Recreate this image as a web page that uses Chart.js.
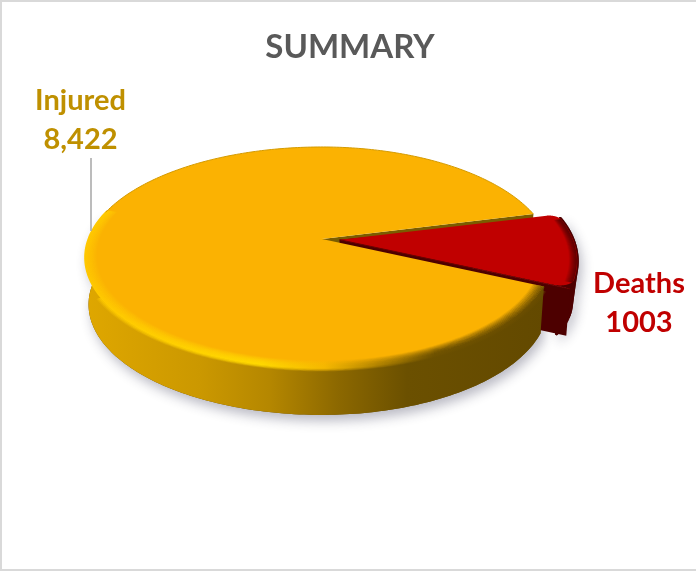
<!DOCTYPE html>
<html>
<head>
<meta charset="utf-8">
<script src="https://cdn.jsdelivr.net/npm/chart.js@4"></script>
<style>
  body { margin: 0; background: #fff; }
  #box { position: relative; width: 696px; height: 571px; overflow: hidden; }
  #frame { position: absolute; left: 0; top: 0; width: 696px; height: 571px; box-sizing: border-box;
           border: 2px solid #d9d9d9; border-right: none; }
  canvas { position: absolute; left: 0; top: 0; }
</style>
</head>
<body>
<div id="box">
  <div id="frame"></div>
  <canvas id="chart" width="696" height="571"></canvas>
</div>
<script>
const categories = ["Deaths", "Injured"];
const values = [1003, 8422];
const valueLabels = ["1003", "8,422"];
const sliceColors = ["#C00000", "#FBB202"];
const labelColors = ["#C00000", "#BF9000"];
const titleText = "SUMMARY";

// where the flat pie lands on the page (fake 3d, a perspective squash)
const view = { cx: 322, cy: 239, rx: 233.7, rightScale: 0.97, ry: 107.4, p: 0.167, depth: 47, shrink: 0.985 };
const rad = (d) => (d * Math.PI) / 180;

function project(x, y, c) {
  const u = (x - c.x) / c.r;
  const v = (y - c.y) / c.r;
  const w = 1 - view.p * v;
  const rx = u > 0 ? view.rx * view.rightScale : view.rx;
  return { x: view.cx + (rx * u) / w, y: view.cy + (view.ry * v) / w };
}

function lower(pt) {
  return { x: view.cx + (pt.x - view.cx) * view.shrink, y: pt.y + view.depth };
}

function pieCentre(chart) {
  const el = chart.getDatasetMeta(0).data[1];
  return { x: el.x, y: el.y, r: el.outerRadius };
}

// flat coordinates of a slice, same shift as ArcElement.draw uses
function slicePoint(el, theta, scale) {
  const off = (el.options.offset || 0) / 4;
  const half = (el.startAngle + el.endAngle) / 2;
  const fix = 1 - Math.sin(Math.min(Math.PI, el.endAngle - el.startAngle));
  const r = (el.outerRadius + off * fix) * scale;
  return {
    x: el.x + Math.cos(half) * off + Math.cos(theta) * r,
    y: el.y + Math.sin(half) * off + Math.sin(theta) * r,
  };
}

function apex(el) {
  const off = (el.options.offset || 0) / 4;
  const half = (el.startAngle + el.endAngle) / 2;
  return { x: el.x + Math.cos(half) * off, y: el.y + Math.sin(half) * off };
}

function rimPoints(el, a0, a1, c, scale) {
  const pts = [];
  const n = 160;
  for (let i = 0; i <= n; i++) {
    const t = a0 + ((a1 - a0) * i) / n;
    const p = slicePoint(el, t, scale === undefined ? 1 : scale);
    pts.push(project(p.x, p.y, c));
  }
  return pts;
}

// the red wall as one path of short drops from the rim to the bottom edge,
// the bottom pulled in toward the lower corner so it looks rounded
function traceRedWall(ctx, el, c) {
  const a0 = el.startAngle + rad(2.5);
  const a1 = el.endAngle;
  const n = 240;
  ctx.beginPath();
  for (let i = 0; i <= n; i++) {
    const f = i / n;
    const t = a0 + (a1 - a0) * f;
    const top = slicePoint(el, t, 1);
    const bottom = slicePoint(el, t, 1 - 0.04 * f * f * f);
    const p = project(top.x, top.y, c);
    const q = lower(project(bottom.x, bottom.y, c));
    ctx.moveTo(p.x, p.y);
    ctx.lineTo(q.x, q.y);
  }
}

function tracePoly(ctx, pts) {
  ctx.beginPath();
  pts.forEach((p, i) => (i ? ctx.lineTo(p.x, p.y) : ctx.moveTo(p.x, p.y)));
}

function xGradient(ctx, stops) {
  const g = ctx.createLinearGradient(85, 0, 545, 0);
  stops.forEach((s) => g.addColorStop(s[0], s[1]));
  return g;
}

const pie3d = {
  id: "pie3d",
  beforeDatasetsDraw(chart) {
    const ctx = chart.ctx;
    const c = pieCentre(chart);
    const [red, yellow] = chart.getDatasetMeta(0).data;

    const front = rimPoints(yellow, yellow.startAngle, rad(195), c);
    const band = front.concat(front.map(lower).reverse());

    // both walls with a soft shadow
    ctx.save();
    ctx.shadowColor = "rgba(40,40,70,0.32)";
    ctx.shadowBlur = 12;
    ctx.shadowOffsetX = 3;
    ctx.shadowOffsetY = 6;
    traceRedWall(ctx, red, c);
    ctx.strokeStyle = "#4d0000";
    ctx.lineWidth = 3;
    ctx.lineCap = "round";
    ctx.stroke();
    tracePoly(ctx, band);
    ctx.closePath();
    ctx.fillStyle = "#6a4d00";
    ctx.fill();
    ctx.restore();

    // cut face of the yellow slice, shows above the red one
    const yApex = project(yellow.x, yellow.y, c);
    const yEnd = rimPoints(yellow, yellow.endAngle, yellow.endAngle, c)[0];
    tracePoly(ctx, [yApex, yEnd, lower(yEnd), lower(yApex)]);
    ctx.closePath();
    ctx.fillStyle = "#7a5c00";
    ctx.fill();

    // red wall, outer and lower cut face, plus a dark backing under the red top
    const rApex0 = apex(red);
    const rApex = project(rApex0.x, rApex0.y, c);
    const rEnd = rimPoints(red, red.endAngle, red.endAngle, c)[0];
    ctx.save();
    traceRedWall(ctx, red, c);
    ctx.strokeStyle = "#4d0000";
    ctx.lineWidth = 3;
    ctx.lineCap = "round";
    ctx.stroke();
    ctx.restore();
    ctx.fillStyle = "#4d0000";
    tracePoly(ctx, [rApex].concat(rimPoints(red, red.startAngle + rad(2.5), red.endAngle, c)));
    ctx.closePath();
    ctx.fill();
    tracePoly(ctx, [rApex, rEnd, lower(rEnd), lower(rApex)]);
    ctx.closePath();
    ctx.fill();

    // yellow wall on top of the red one
    tracePoly(ctx, band);
    ctx.closePath();
    ctx.fillStyle = xGradient(ctx, [
      [0, "#dfa700"], [0.25, "#cb9800"], [0.4, "#b58700"], [0.55, "#8c6800"],
      [0.7, "#6b5000"], [1, "#634900"],
    ]);
    ctx.fill();

    // the arcs drawn by the library go through the same squash
    const orig = { arc: ctx.arc, lineTo: ctx.lineTo, moveTo: ctx.moveTo };
    const put = (fn, x, y) => {
      const m = ctx.getTransform();
      const p = project(x + m.e, y + m.f, c);
      fn.call(ctx, p.x - m.e, p.y - m.f);
    };
    ctx.moveTo = (x, y) => put(orig.moveTo, x, y);
    ctx.lineTo = (x, y) => put(orig.lineTo, x, y);
    ctx.arc = (x, y, r, a0, a1, ccw) => {
      if (r <= 0) return put(orig.lineTo, x, y);
      let end = a1;
      if (!ccw && end < a0) end += Math.PI * 2;
      if (ccw && end > a0) end -= Math.PI * 2;
      for (let i = 0; i <= 120; i++) {
        const t = a0 + ((end - a0) * i) / 120;
        put(orig.lineTo, x + Math.cos(t) * r, y + Math.sin(t) * r);
      }
    };
  },
  afterDatasetsDraw(chart) {
    const ctx = chart.ctx;
    delete ctx.arc;
    delete ctx.lineTo;
    delete ctx.moveTo;

    const c = pieCentre(chart);
    const [red, yellow] = chart.getDatasetMeta(0).data;

    // bevel along the rim, soft on both sides
    ctx.save();
    ctx.lineJoin = "round";
    const steps = 9;
    const rimColors = xGradient(ctx, [
      [0, "#ffc800"], [0.18, "#ffcf00"], [0.38, "#ffd800"], [0.52, "#f5b800"],
      [0.64, "#b08200"], [0.76, "#6f5200"], [1, "#6a4d00"],
    ]);
    for (let k = -3; k < steps; k++) {
      const s = 1 - (0.05 * k) / steps;
      ctx.globalAlpha = k < 0 ? 1 + k / 4 : 1 - k / steps;
      const from = yellow.startAngle + (k < 0 ? rad(2) : 0);
      const to = k < 0 ? rad(150) : rad(196);
      tracePoly(ctx, rimPoints(yellow, from, to, c, s));
      ctx.lineWidth = 1.6;
      ctx.strokeStyle = rimColors;
      ctx.stroke();
    }
    // red rim fades into the red top
    for (let k = 1; k < steps; k++) {
      const s = 1 - (0.035 * k) / steps;
      ctx.globalAlpha = 1 - k / steps;
      tracePoly(ctx, rimPoints(red, red.startAngle + rad(3), red.endAngle - rad(3), c, s));
      ctx.lineWidth = 1.4;
      ctx.strokeStyle = "#5c0000";
      ctx.stroke();
    }
    ctx.globalAlpha = 1;
    tracePoly(ctx, rimPoints(yellow, rad(195), yellow.endAngle, c));
    ctx.lineWidth = 1;
    ctx.strokeStyle = "#d49a00";
    ctx.stroke();

    // dark seam under the red slice
    const a = apex(red);
    const rEnd = rimPoints(red, red.endAngle, red.endAngle, c)[0];
    const rApex = project(a.x, a.y, c);
    tracePoly(ctx, [rApex, rEnd]);
    ctx.lineWidth = 1;
    ctx.strokeStyle = "#6a0000";
    ctx.stroke();
    ctx.restore();

    // labels and the leader line
    ctx.save();
    ctx.strokeStyle = "#a6a6a6";
    ctx.lineWidth = 1.5;
    ctx.beginPath();
    ctx.moveTo(91, 158);
    ctx.lineTo(91, 231);
    ctx.stroke();
    ctx.textAlign = "center";
    ctx.font = "bold 29px Lato";
    ctx.fillStyle = labelColors[1];
    ctx.fillText(categories[1], 80.5, 110);
    ctx.fillText(valueLabels[1], 80.5, 149);
    ctx.fillStyle = labelColors[0];
    ctx.fillText(categories[0], 639, 293);
    ctx.fillText(valueLabels[0], 639, 332);
    ctx.restore();
  },
};

new Chart(document.getElementById("chart"), {
  type: "pie",
  plugins: [pie3d],
  data: {
    labels: categories,
    datasets: [
      {
        data: values,
        backgroundColor: sliceColors,
        borderColor: "rgba(0,0,0,0)",
        borderWidth: 0,
        borderRadius: [{ outerStart: 10, outerEnd: 14 }, 0],
        offset: [62, 0],
        radius: 200,
        clip: false,
      },
    ],
  },
  options: {
    responsive: false,
    animation: false,
    rotation: 76,
    layout: { padding: { left: 4, right: 0, top: 0, bottom: 0 } },
    plugins: {
      legend: { display: false },
      tooltip: { enabled: false },
      title: {
        display: true,
        text: titleText,
        color: "#595959",
        font: { family: "Lato", size: 33, weight: "bold" },
        padding: { top: 28, bottom: 10 },
      },
    },
  },
});
</script>
</body>
</html>
